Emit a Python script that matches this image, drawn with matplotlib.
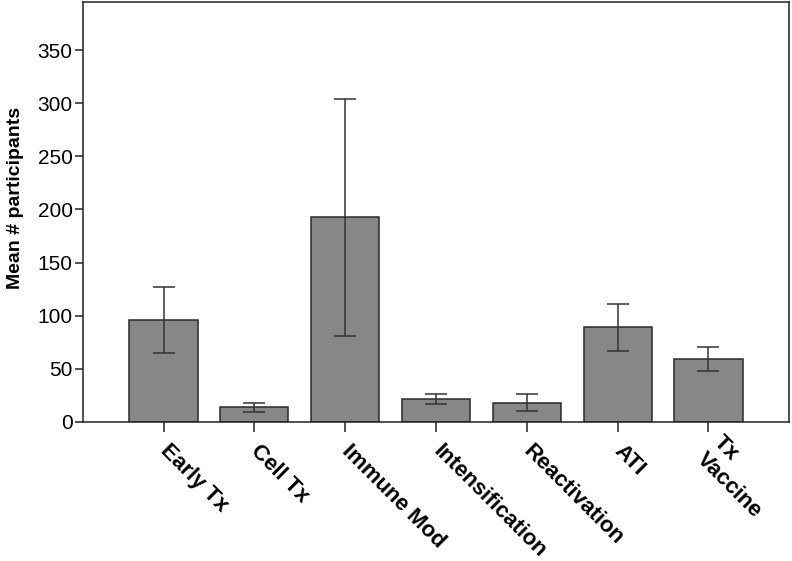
import matplotlib.pyplot as plt
import numpy as np

# --- Data ---
categories = ["Early Tx", "Cell Tx", "Immune Mod", "Intensification",
              "Reactivation", "ATI", "Tx\nVaccine"]
means = [96, 13.8, 192.4, 21.3, 18.2, 89, 58.9]
err_low = [65.2, 9.1, 80.5, 16.6, 10.6, 67, 47.9]
err_high = [127.2, 18.2, 304.2, 26, 26.3, 111.2, 70.5]
y_ticks = [0, 50, 100, 150, 200, 250, 300, 350]

plt.rcParams['font.family'] = ['Liberation Sans', 'DejaVu Sans']

fig = plt.figure(figsize=(7.92, 5.61), dpi=100)
ax = fig.add_axes([0.105, 0.248, 0.891, 0.748])

x = np.arange(len(categories))
means_arr = np.array(means)
yerr = [means_arr - np.array(err_low), np.array(err_high) - means_arr]

ax.bar(x, means, width=0.75, color='#878787', edgecolor='#2a2a2a', linewidth=1.1, zorder=2)
ax.errorbar(x, means, yerr=yerr, fmt='none', ecolor='#333333', elinewidth=1.1,
            capsize=8, capthick=1.1, zorder=3)

ax.set_xlim(-0.885, len(categories) - 1 + 0.885)
ax.set_ylim(0, 395)
ax.set_yticks(y_ticks)
ax.tick_params(axis='y', direction='out', length=5.8, width=1.1, pad=1.8,
               labelsize=15, color='#222222')
ax.tick_params(axis='x', direction='out', length=7.2, width=1.1, pad=11.5,
               color='#222222')

ax.set_xticks(x)
ax.set_xticklabels(categories, rotation=-45, ha='left', va='center',
                   rotation_mode='anchor', fontsize=16, fontweight='bold')

ax.set_ylabel("Mean # participants", fontsize=14, fontweight='bold')
ax.yaxis.set_label_coords(-0.084, 0.533)

for s in ax.spines.values():
    s.set_linewidth(1.1)
    s.set_color('#222222')

plt.savefig("out.png", dpi=100)
